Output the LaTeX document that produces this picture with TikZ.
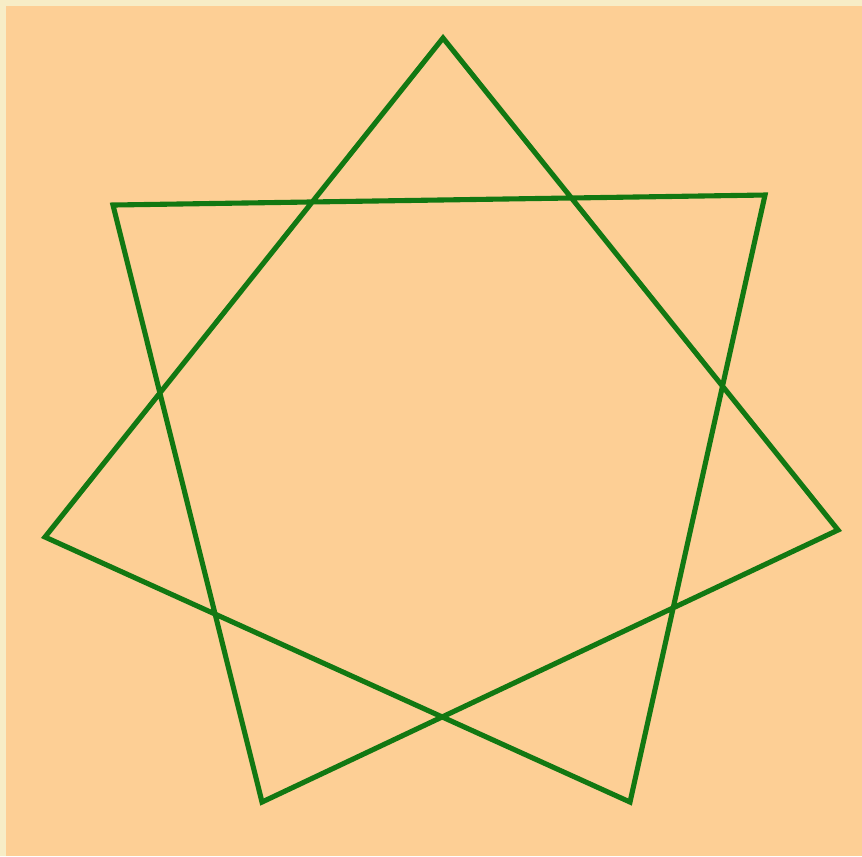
\documentclass[tikz,border=0pt]{standalone}
\usepackage{xcolor}
\definecolor{starcream}{HTML}{F7EDC6}
\definecolor{starpeach}{HTML}{FDCF95}
\definecolor{stargreen}{HTML}{127812}
\begin{document}
\begin{tikzpicture}[x=0.01cm, y=-0.01cm,
  starline/.style={stargreen, line width=1.45pt, line join=miter}]
  % Background
  \fill[starcream] (0,0) rectangle (862,856);
  \fill[starpeach] (6,6) rectangle (862,856);
  \useasboundingbox (0,0) rectangle (862,856);

  % Star points
  \coordinate (ptop)    at (443,38);
  \coordinate (prtop)   at (765,195);
  \coordinate (pright)  at (838,530);
  \coordinate (pbright) at (630,802);
  \coordinate (pbleft)  at (262,802);
  \coordinate (pleft)   at (45,537);
  \coordinate (pltop)   at (113,205);

  % Heptagram
  \draw[starline] (ptop) -- (pright) -- (pbleft) -- (pltop) -- (prtop)
    -- (pbright) -- (pleft) -- cycle;
\end{tikzpicture}
\end{document}
